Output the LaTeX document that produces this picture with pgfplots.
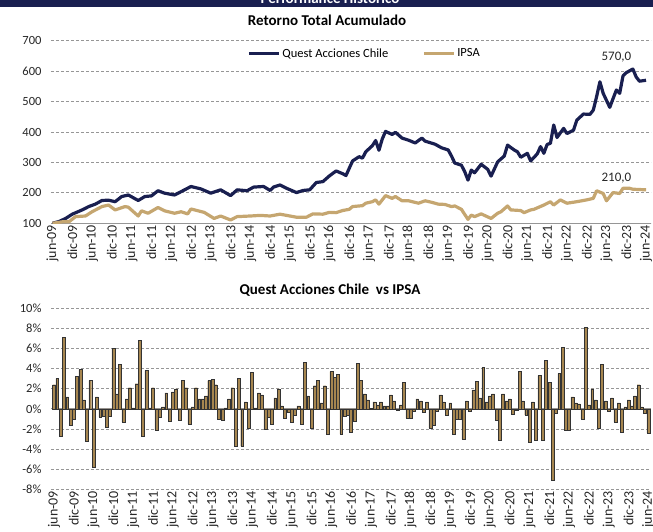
\documentclass[border=0pt]{standalone}
\usepackage{fontspec}
\setmainfont{Carlito}
\usepackage{pgfplots}
\usepackage{pgfplotstable}
\pgfplotsset{compat=1.18}
\definecolor{navy}{RGB}{25,31,80}
\definecolor{tanc}{RGB}{197,166,112}
\definecolor{barc}{RGB}{166,134,80}
\definecolor{gridc}{RGB}{150,150,150}

\pgfplotstableread{
x y
0 100
2 106
4 116
6 130
9 144
11 155
13 163
15 175
17 176
19 171
21 188
23 193
26 175
28 188
30 190
32 207
34 199
37 193
39 204
42 221
45 213
48 199
51 210
54 191
56 210
59 207
61 219
64 221
66 208
67 219
69 226
71 215
74 201
76 208
78 210
80 234
82 237
84 256
86 272
88 263
89 257
91 305
93 319
94 314
95 335
97 355
98 372
99 340
100 377
101 402
103 392
104 399
106 380
108 373
110 364
112 380
113 370
116 360
118 348
120 341
121 321
122 298
124 291
125 270
126 242
127 275
128 266
130 294
132 277
133 255
135 302
137 321
138 357
140 341
141 335
142 317
144 330
145 305
147 328
148 352
149 330
150 359
151 363
152 423
153 382
155 412
156 395
158 406
159 439
161 459
163 458
164 472
165 516
166 565
167 527
169 481
170 510
171 538
172 527
173 584
174 595
176 607
177 581
178 567
180 570
}\quest

\pgfplotstableread{
x y
0 100
3 105
5 105
7 122
10 124
12 138
15 155
17 160
19 144
22 155
23 153
26 124
27 141
29 133
32 152
34 141
37 133
39 138
41 131
42 147
46 136
49 116
51 124
54 111
56 122
60 124
63 126
66 124
69 130
72 124
74 120
77 120
79 131
82 130
84 136
86 135
88 142
90 146
91 155
94 158
95 166
97 171
98 177
99 163
101 191
103 182
104 188
106 174
108 174
111 166
113 174
115 169
117 163
119 162
121 155
122 157
124 146
126 113
127 127
128 122
130 131
133 116
135 133
136 138
138 157
139 144
142 142
143 135
145 144
146 146
149 160
151 171
152 160
154 177
156 166
159 171
162 177
164 182
165 207
167 198
168 174
170 201
172 198
173 215
175 215
176 212
180 210
}\ipsa

\pgfplotstableread{
x y
0 2.4
1 3.0
2 -2.7
3 7.1
4 1.2
5 -1.6
6 -1.0
7 3.2
8 3.9
9 0.9
10 -3.2
11 2.8
12 -5.8
13 1.2
14 -0.8
15 -0.7
16 -1.8
17 -0.7
18 6.0
19 1.5
20 4.4
21 -1.3
22 1.0
23 2.1
24 0.1
25 2.5
26 6.8
27 -2.7
28 3.8
29 0.1
30 2.1
31 -2.1
32 -0.8
33 0.2
34 1.6
35 -1.2
36 1.7
37 2.0
38 -1.1
39 2.8
40 2.1
41 -1.5
42 0.2
43 2.1
44 1.0
45 1.0
46 1.3
47 2.8
48 2.9
49 2.4
50 -1.0
51 -1.1
52 0.1
53 1.0
54 2.1
55 -3.7
56 3.0
57 -3.7
58 0.7
59 -1.9
60 3.6
61 0.1
62 1.6
63 1.4
64 -2.0
65 -0.8
66 -1.5
67 1.1
68 2.0
69 0.3
70 -0.9
71 -0.3
72 -1.3
73 -0.6
74 0.3
75 -1.5
76 4.6
77 1.3
78 -1.9
79 2.3
80 2.8
81 0.6
82 2.3
83 -2.5
84 3.7
85 3.1
86 3.4
87 -2.5
88 -0.7
89 -0.6
90 -2.3
91 -1.2
92 4.5
93 2.8
94 1.5
95 0.9
96 0.05
97 0.7
98 0.4
99 0.7
100 0.3
101 0.3
102 1.4
103 0.8
104 -0.1
105 0.4
106 2.6
107 -0.9
108 -0.9
109 -0.2
110 1.0
111 0.8
112 -0.3
113 0.7
114 -1.9
115 -1.6
116 -0.2
117 1.4
118 0.7
119 -0.6
120 0.6
121 -2.5
122 -1.0
123 -1.0
124 -3.0
125 0.8
126 -0.2
127 1.9
128 2.7
129 1.1
130 4.1
131 0.7
132 1.3
133 1.5
134 -1.1
135 -3.1
136 1.5
137 0.8
138 1.0
139 -0.5
140 -0.1
141 3.7
142 0.8
143 -0.6
144 -3.3
145 0.7
146 -3.1
147 3.3
148 -3.1
149 4.8
150 2.6
151 -7.1
152 -0.4
153 3.5
154 6.1
155 -2.1
156 -2.1
157 1.2
158 0.6
159 0.5
160 -1.0
161 8.1
162 0.4
163 2.0
164 0.9
165 -1.9
166 4.4
167 0.8
168 -0.2
169 1.1
170 -1.3
171 0.6
172 -2.3
173 0.2
174 0.9
175 0.3
176 1.3
177 2.4
178 0.2
179 -0.4
180 -2.4
}\bars

\pgfplotsset{
  common/.style={
    scale only axis,
    width=600pt,
    axis line style={draw=none},
    tick style={draw=none},
    xtick={0,6,...,180},
    xticklabels={jun-09,dic-09,jun-10,dic-10,jun-11,dic-11,jun-12,dic-12,jun-13,dic-13,jun-14,dic-14,jun-15,dic-15,jun-16,dic-16,jun-17,dic-17,jun-18,dic-18,jun-19,dic-19,jun-20,dic-20,jun-21,dic-21,jun-22,dic-22,jun-23,dic-23,jun-24},
    xticklabel style={rotate=90, anchor=east, font=\fontsize{14}{16}\selectfont, text=black!85, inner sep=1.5pt},
    yticklabel style={font=\fontsize{12.5}{14}\selectfont, text=black!85, xshift=-6pt},
    ymajorgrids,
    major grid style={gridc, line width=0.8pt, dash pattern=on 3pt off 2pt},
    /pgf/number format/assume math mode=true,
  }
}

\begin{document}
\begin{tikzpicture}
\fill[navy] (0pt,0pt) rectangle (653pt,-7pt);
\node[white, font=\bfseries\fontsize{15}{18}\selectfont, anchor=base] at (330pt,-3.5pt) {Performance Histórico};
\node[font=\bfseries\fontsize{15}{18}\selectfont] at (327pt,-20pt) {Retorno Total Acumulado};

\begin{axis}[common,
  at={(51pt,-223.3pt)}, anchor=south west,
  height=182.6pt,
  xmin=-0.45, xmax=181.5,
  ymin=100, ymax=700,
  ytick={100,200,...,700},
  legend style={at={(0.322,0.93)}, anchor=west, draw=none, fill=none,
    font=\fontsize{12.5}{14}\selectfont, legend columns=2,
    /tikz/every even column/.append style={column sep=32pt}},
  legend image code/.code={\draw[#1, line width=3pt] (0pt,0pt) -- (30pt,0pt);},
]
\draw[gridc, line width=1pt] (rel axis cs:0,0) -- (rel axis cs:1,0);
\addplot[navy, line width=3.2pt, line join=round, mark=none] table {\quest};
\addlegendentry{Quest Acciones Chile}
\addplot[tanc, line width=3.2pt, line join=round, mark=none] table {\ipsa};
\addlegendentry{IPSA}
\node[font=\fontsize{13}{15}\selectfont, text=black!85] at (axis cs:171,645) {570,0};
\node[font=\fontsize{13}{15}\selectfont, text=black!85] at (axis cs:171,247) {210,0};
\end{axis}

\node[font=\bfseries\fontsize{15}{18}\selectfont] at (330pt,-290pt) {Quest Acciones Chile\ \ vs IPSA};

\begin{axis}[common,
  at={(51pt,-489.3pt)}, anchor=south west,
  height=181pt,
  xmin=-0.9, xmax=180.8,
  ymin=-8, ymax=10,
  ytick={-8,-6,...,10},
  yticklabels={-8\%,-6\%,-4\%,-2\%,0\%,2\%,4\%,6\%,8\%,10\%},
]
\draw[gridc, line width=1pt] (axis cs:-0.9,0) -- (axis cs:180.8,0);
\addplot[ybar, bar width=2.9pt, fill=barc, draw=black!80, line width=0.45pt] table {\bars};
\end{axis}

\pgfresetboundingbox
\path[use as bounding box] (0pt,0pt) rectangle (653pt,-531pt);
\end{tikzpicture}
\end{document}
